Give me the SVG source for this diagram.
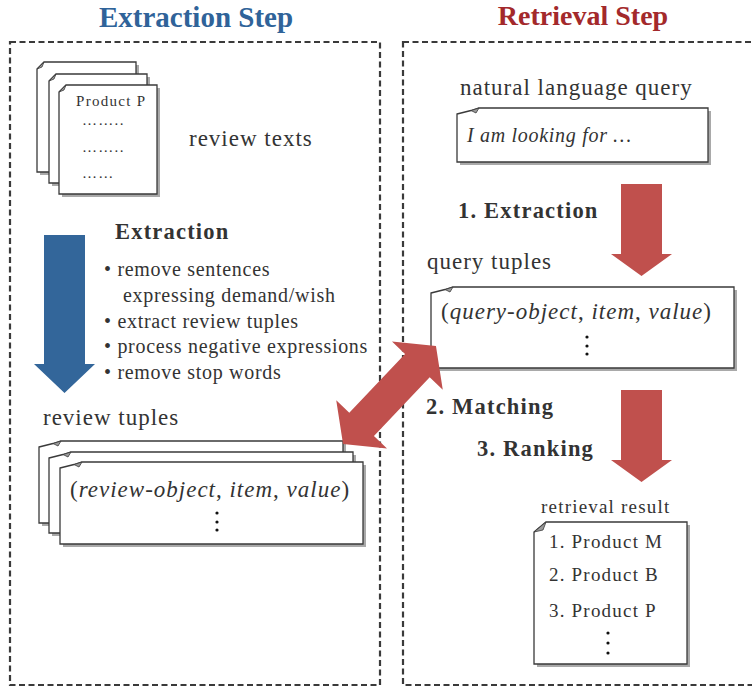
<svg xmlns="http://www.w3.org/2000/svg" width="752" height="688" viewBox="0 0 752 688">
<style>
.frame{fill:none;stroke:#3a3a3a;stroke-width:2.2;stroke-dasharray:6 3.5}
.title{font-family:"Liberation Serif",serif;font-weight:bold}
.lbl{font-family:"Liberation Serif",serif;font-size:23px;letter-spacing:1px;fill:#333}
.bold{font-family:"Liberation Serif",serif;font-size:22.5px;font-weight:bold;letter-spacing:1.2px;fill:#333}
.bul{font-family:"Liberation Serif",serif;font-size:20px;letter-spacing:0.7px;fill:#333}
.sm{font-family:"Liberation Serif",serif;font-size:19px;letter-spacing:1.2px;fill:#333}
.tiny{font-family:"Liberation Serif",serif;font-size:15px;letter-spacing:1.3px;fill:#333}
.it{font-style:italic}
.page{fill:#fff;stroke:#3a3a3a;stroke-width:1.3}
.shadow{fill:#a9a9a9}
.fold{fill:#9a9a9a;stroke:#3a3a3a;stroke-width:0.8}
.dot{fill:#111}
.red{fill:#c0504d}
.blue{fill:#33669a}
</style>

<g id="extraction-frame">
<rect class="frame" x="10" y="42" width="370" height="643"/>
<text class="title" x="196" y="27" font-size="29" fill="#2f6399" text-anchor="middle">Extraction Step</text>
</g>
<g id="retrieval-frame">
<rect class="frame" x="403" y="42" width="400" height="643"/>
<text class="title" x="583" y="25" font-size="28" fill="#a3292b" text-anchor="middle">Retrieval Step</text>
</g>

<g id="review-texts">
<path class="shadow" d="M40,72 L47,65 H139 V175 H40 Z"/>
<path class="page" d="M37,69 L44,62 H136 V172 H37 Z"/>
<path class="fold" d="M37,69 L44,62 L42,67 Z"/>
<path class="shadow" d="M52,84 L59,77 H150 V186 H52 Z"/>
<path class="page" d="M49,81 L56,74 H147 V183 H49 Z"/>
<path class="fold" d="M49,81 L56,74 L54,79 Z"/>
<path class="shadow" d="M62,95 L69,88 H160 V197 H62 Z"/>
<path class="page" d="M59,92 L66,85 H157 V194 H59 Z"/>
<path class="fold" d="M59,92 L66,85 L64,90 Z"/>
<text class="tiny" x="76" y="106">Product P</text>
<text class="tiny" x="82" y="125">……..</text>
<text class="tiny" x="82" y="152">……..</text>
<text class="tiny" x="82" y="178">……</text>
<text class="lbl" x="189" y="146">review texts</text>
</g>

<g id="extraction-steps">
<text class="bold" x="115" y="239">Extraction</text>
<text class="bul" x="104" y="276">• remove sentences</text>
<text class="bul" x="123" y="302">expressing demand/wish</text>
<text class="bul" x="104" y="328">• extract review tuples</text>
<text class="bul" x="104" y="353">• process negative expressions</text>
<text class="bul" x="104" y="379">• remove stop words</text>
</g>

<g id="review-tuples">
<text class="lbl" x="43" y="425">review tuples</text>
<path class="shadow" d="M42,450 L56,446.5 L64,444 H346 V526 H42 Z"/>
<path class="page" d="M39,447 L53,443.5 L61,441 H343 V523 H39 Z"/>
<path class="fold" d="M53,443.5 L61,441 L58,446 Z"/>
<path class="shadow" d="M52,461 L66,457.5 L74,455 H356 V536 H52 Z"/>
<path class="page" d="M49,458 L63,454.5 L71,452 H353 V533 H49 Z"/>
<path class="fold" d="M63,454.5 L71,452 L68,457 Z"/>
<path class="shadow" d="M63,471 L77,467.5 L85,465 H366 V547 H63 Z"/>
<path class="page" d="M60,468 L74,464.5 L82,462 H363 V544 H60 Z"/>
<path class="fold" d="M74,464.5 L82,462 L79,467 Z"/>
<text class="lbl" x="70" y="497">(<tspan class="it">review-object</tspan>, <tspan class="it">item</tspan>, <tspan class="it">value</tspan>)</text>
<circle class="dot" cx="217" cy="513" r="1.6"/>
<circle class="dot" cx="217" cy="522" r="1.6"/>
<circle class="dot" cx="217" cy="530" r="1.6"/>
</g>

<g id="nl-query">
<text class="lbl" x="460" y="95">natural language query</text>
<path class="shadow" d="M460,117 L474,113.5 L482,111 H711 V165 H460 Z"/>
<path class="page" d="M457,114 L471,110.5 L479,108 H708 V162 H457 Z"/>
<path class="fold" d="M471,110.5 L479,108 L476,113 Z"/>
<text class="bul it" x="467" y="142" letter-spacing="0.5">I am looking for …</text>
</g>

<g id="query-tuples">
<text class="lbl" x="427" y="269">query tuples</text>
<path class="shadow" d="M434,296 L448,292.5 L456,290 H737 V371 H434 Z"/>
<path class="page" d="M431,293 L445,289.5 L453,287 H734 V368 H431 Z"/>
<path class="fold" d="M445,289.5 L453,287 L450,292 Z"/>
<text class="lbl" x="441" y="319">(<tspan class="it">query-object</tspan>, <tspan class="it">item</tspan>, <tspan class="it">value</tspan>)</text>
<circle class="dot" cx="587" cy="337" r="1.6"/>
<circle class="dot" cx="587" cy="346" r="1.6"/>
<circle class="dot" cx="587" cy="354" r="1.6"/>
</g>

<g id="retrieval-result">
<text class="sm" x="541" y="513">retrieval result</text>
<path class="shadow" d="M537,535 L549,525 H690 V667 H537 Z"/>
<path class="page" d="M534,532 L546,522 H687 V664 H534 Z"/>
<path class="fold" d="M534,532 L546,522 L543,530 Z"/>
<text class="sm" x="549" y="548">1. Product M</text>
<text class="sm" x="549" y="581">2. Product B</text>
<text class="sm" x="549" y="617">3. Product P</text>
<circle class="dot" cx="608" cy="633" r="1.6"/>
<circle class="dot" cx="608" cy="643" r="1.6"/>
<circle class="dot" cx="608" cy="653" r="1.6"/>
</g>

<g id="step-labels">
<text class="bold" x="458" y="218">1. Extraction</text>
<text class="bold" x="426" y="414">2. Matching</text>
<text class="bold" x="477" y="456">3. Ranking</text>
</g>

<g id="connectors">
<polygon class="blue" points="44,235 85,235 85,364 95,364 64.5,393 34,364 44,364"/>
<polygon class="red" points="621,184 662,184 662,254 672,254 641.5,276 611,254 621,254"/>
<polygon class="red" points="621,390 662,390 662,460 672,460 641.5,482 611,460 621,460"/>
<polygon class="red" transform="translate(389.5,395) rotate(-46.5)" points="-67.5,0 -40.5,-35 -40.5,-17 40.5,-17 40.5,-35 67.5,0 40.5,35 40.5,17 -40.5,17 -40.5,35"/>
</g>
</svg>
